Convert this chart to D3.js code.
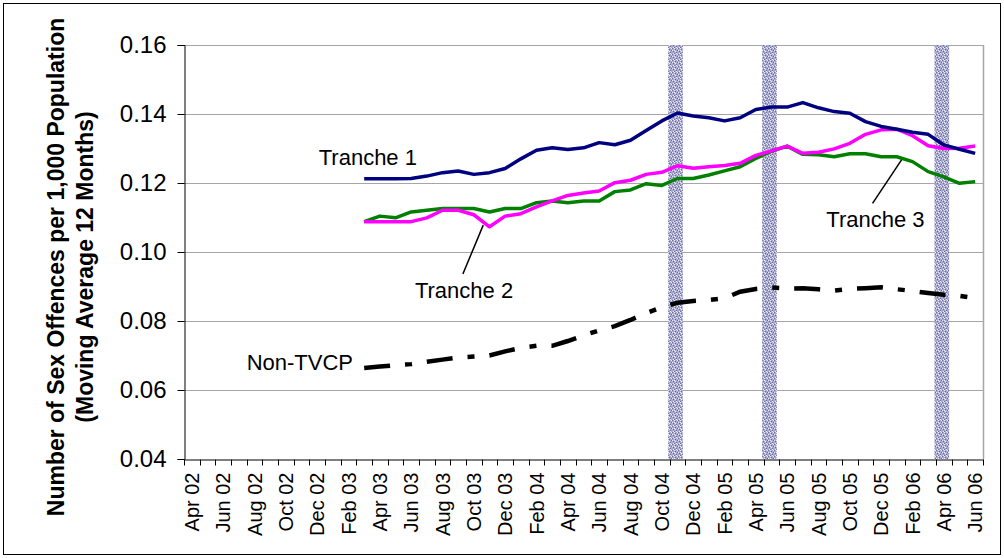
<!DOCTYPE html>
<html>
<head>
<meta charset="utf-8">
<script src="https://cdn.jsdelivr.net/npm/d3@7"></script>
<style>
  body { margin: 0; background: #fff; }
  svg { display: block; font-family: Arial, "Liberation Sans", sans-serif; }
</style>
</head>
<body>
<script>
var width = 1004;
var height = 558;
var margin = { top: 45, bottom: 99, right: 21, left: 184 };

// months on the category axis
var months = [
  "Apr 02", "May 02", "Jun 02", "Jul 02", "Aug 02", "Sep 02", "Oct 02", "Nov 02", "Dec 02", "Jan 03", "Feb 03", "Mar 03",
  "Apr 03", "May 03", "Jun 03", "Jul 03", "Aug 03", "Sep 03", "Oct 03", "Nov 03", "Dec 03", "Jan 04", "Feb 04", "Mar 04",
  "Apr 04", "May 04", "Jun 04", "Jul 04", "Aug 04", "Sep 04", "Oct 04", "Nov 04", "Dec 04", "Jan 05", "Feb 05", "Mar 05",
  "Apr 05", "May 05", "Jun 05", "Jul 05", "Aug 05", "Sep 05", "Oct 05", "Nov 05", "Dec 05", "Jan 06", "Feb 06", "Mar 06",
  "Apr 06", "May 06", "Jun 06"
];
var tickLabels = [
  "Apr 02", "Jun 02", "Aug 02", "Oct 02", "Dec 02", "Feb 03", "Apr 03", "Jun 03", "Aug 03", "Oct 03", "Dec 03", "Feb 04",
  "Apr 04", "Jun 04", "Aug 04", "Oct 04", "Dec 04", "Feb 05", "Apr 05", "Jun 05", "Aug 05", "Oct 05", "Dec 05", "Feb 06",
  "Apr 06", "Jun 06"
];
var yTicks = [0.04, 0.06, 0.08, 0.10, 0.12, 0.14, 0.16];

// series start in Mar 03
var firstMonth = "Mar 03";
var tranche1 = [
  0.1212, 0.1212, 0.1212, 0.1213, 0.1220, 0.1230, 0.1235, 0.1225, 0.1230, 0.1242,
  0.1270, 0.1295, 0.1302, 0.1297, 0.1302, 0.1317, 0.1311, 0.1324, 0.1352, 0.1380,
  0.1403, 0.1394, 0.1389, 0.1380, 0.1389, 0.1413, 0.1420, 0.1420, 0.1433, 0.1418,
  0.1407, 0.1402, 0.1378, 0.1364, 0.1356, 0.1347, 0.1341, 0.1310, 0.1298, 0.1286
];
var tranche2 = [
  0.1088, 0.1088, 0.1088, 0.1088, 0.1099, 0.1121, 0.1121, 0.1108, 0.1073, 0.1104,
  0.1111, 0.1131, 0.1148, 0.1164, 0.1171, 0.1177, 0.1201, 0.1208, 0.1225, 0.1231,
  0.1250, 0.1243, 0.1247, 0.1251, 0.1257, 0.1280, 0.1293, 0.1307, 0.1286, 0.1289,
  0.1299, 0.1315, 0.1341, 0.1354, 0.1356, 0.1337, 0.1308, 0.1300, 0.1301, 0.1307
];
var tranche3 = [
  0.1088, 0.1104, 0.1099, 0.1116, 0.1121, 0.1126, 0.1126, 0.1126, 0.1116, 0.1126,
  0.1126, 0.1143, 0.1148, 0.1143, 0.1148, 0.1148, 0.1175, 0.1180, 0.1198, 0.1193,
  0.1213, 0.1213, 0.1223, 0.1235, 0.1247, 0.1271, 0.1292, 0.1307, 0.1283, 0.1282,
  0.1276, 0.1285, 0.1285, 0.1276, 0.1276, 0.1262, 0.1233, 0.1218, 0.1199, 0.1204
];
var nonTVCP = [
  0.0664, 0.0668, 0.0672, 0.0675, 0.0682, 0.0688, 0.0694, 0.0697, 0.0700, 0.0712,
  0.0722, 0.0728, 0.0728, 0.0742, 0.0758, 0.0773, 0.0785, 0.0803, 0.0823, 0.0840,
  0.0853, 0.0858, 0.0861, 0.0866, 0.0885, 0.0893, 0.0897, 0.0894, 0.0895, 0.0892,
  0.0888, 0.0893, 0.0895, 0.0898, 0.0892, 0.0887, 0.0881, 0.0876, 0.0873, 0.0866
];
// shaded months
var shaded = ["Nov 04", "May 05", "Apr 06"];

// labels: position as (fractional month index, value)
var labels = [
  { text: "Tranche 1", i: 8.1, v: 0.1252 },
  { text: "Tranche 2", i: 14.24, v: 0.0867 },
  { text: "Tranche 3", i: 40.5, v: 0.1073 },
  { text: "Non-TVCP", i: 3.5, v: 0.0658 }
];
var leaders = [
  { i1: 17.3, v1: 0.0936, i2: 18.6, v2: 0.1078 },
  { i1: 43.45, v1: 0.1141, i2: 45.3, v2: 0.1267 }
];

var svg = d3.select("body").append("svg")
  .attr("width", width)
  .attr("height", height);

// outer frame
svg.append("rect")
  .attr("x", 3.5).attr("y", 3.5)
  .attr("width", width - 7).attr("height", height - 7)
  .attr("fill", "none").attr("stroke", "#000").attr("stroke-width", 1);

var x = d3.scaleBand()
  .domain(months)
  .range([margin.left, width - margin.right]);
var y = d3.scaleLinear()
  .domain([0.04, 0.16])
  .range([height - margin.bottom, margin.top]);

function xi(i) {
  return margin.left + (i + 0.5) * x.step();
}

// speckled fill for the shaded bars
var defs = svg.append("defs");
var pat = defs.append("pattern")
  .attr("id", "speckle")
  .attr("patternUnits", "userSpaceOnUse")
  .attr("width", 6).attr("height", 6);
pat.append("rect").attr("width", 6).attr("height", 6).attr("fill", "#a9a9d0");
var dark = [[0, 0], [3, 1], [1, 3], [4, 4], [5, 2], [2, 5]];
var light = [[2, 0], [5, 0], [0, 2], [3, 3], [1, 5], [4, 5], [2, 2]];
dark.forEach(function (p) {
  pat.append("rect").attr("x", p[0]).attr("y", p[1]).attr("width", 1).attr("height", 1).attr("fill", "#6a6aa4");
});
light.forEach(function (p) {
  pat.append("rect").attr("x", p[0]).attr("y", p[1]).attr("width", 1).attr("height", 1).attr("fill", "#ececf6");
});

// gridlines
svg.append("g")
  .selectAll("line")
  .data(yTicks.slice(1))
  .join("line")
  .attr("x1", margin.left).attr("x2", width - margin.right)
  .attr("y1", function (d) { return Math.round(y(d)) + 0.5; })
  .attr("y2", function (d) { return Math.round(y(d)) + 0.5; })
  .attr("stroke", "#a6a6a6").attr("stroke-width", 1);

// right border of plot area
svg.append("line")
  .attr("x1", width - margin.right + 0.5).attr("x2", width - margin.right + 0.5)
  .attr("y1", margin.top).attr("y2", height - margin.bottom)
  .attr("stroke", "#a6a6a6").attr("stroke-width", 1.5);

// shaded bars
svg.append("g")
  .selectAll("rect")
  .data(shaded)
  .join("rect")
  .attr("x", function (d) { return x(d) - 1.5; })
  .attr("width", x.bandwidth() - 1)
  .attr("y", margin.top)
  .attr("height", height - margin.bottom - margin.top)
  .attr("fill", "url(#speckle)");

// axes
var axisY = d3.axisLeft(y).tickValues(yTicks).tickFormat(d3.format(".2f")).tickSize(7).tickPadding(11);
var gy = svg.append("g")
  .attr("transform", "translate(" + (margin.left + 0.5) + ",0)")
  .call(axisY);
gy.select(".domain").attr("stroke", "#000");
gy.selectAll("text").attr("font-size", "24px").attr("font-family", "Arial, 'Liberation Sans', sans-serif").attr("fill", "#000");

var axisX = d3.axisBottom(x).tickValues([]).tickSize(0);
var gx = svg.append("g")
  .attr("transform", "translate(0," + (height - margin.bottom + 0.5) + ")")
  .call(axisX);
gx.select(".domain").attr("stroke", "#000");
// tick marks on category boundaries
gx.selectAll("line.bound")
  .data(months.concat(["end"]))
  .join("line")
  .attr("class", "bound")
  .attr("x1", function (d, i) { return Math.round(margin.left + i * x.step()) + 0.5; })
  .attr("x2", function (d, i) { return Math.round(margin.left + i * x.step()) + 0.5; })
  .attr("y1", 0).attr("y2", 6)
  .attr("stroke", "#000");
gx.selectAll("text.lab")
  .data(tickLabels)
  .join("text")
  .attr("class", "lab")
  .attr("transform", function (d) {
    return "translate(" + (x(d) + x.bandwidth() / 2) + ",13) rotate(-90)";
  })
  .attr("text-anchor", "end")
  .attr("dy", "0.35em")
  .attr("font-size", "20px")
  .attr("fill", "#000")
  .text(function (d) { return d; });

// y axis title
var title = svg.append("text")
  .attr("transform", "translate(0,267) rotate(-90)")
  .attr("text-anchor", "middle")
  .attr("font-size", "23px")
  .attr("font-weight", "bold");
title.append("tspan").attr("x", 0).attr("y", 64).text("Number of Sex Offences per 1,000 Population");
title.append("tspan").attr("x", 0).attr("y", 93).text("(Moving Average 12 Months)");

// lines
var start = months.indexOf(firstMonth);
var line = d3.line()
  .x(function (d, i) { return x(months[start + i]) + x.bandwidth() / 2; })
  .y(function (d) { return y(d); });

svg.append("path").datum(nonTVCP)
  .attr("fill", "none").attr("stroke", "#000").attr("stroke-width", 4.5)
  .attr("stroke-dasharray", "26,15,7,15")
  .attr("d", line);
svg.append("path").datum(tranche3)
  .attr("fill", "none").attr("stroke", "#008000").attr("stroke-width", 3.5)
  .attr("stroke-linejoin", "round")
  .attr("d", line);
svg.append("path").datum(tranche2)
  .attr("fill", "none").attr("stroke", "#ff00ff").attr("stroke-width", 3.5)
  .attr("stroke-linejoin", "round")
  .attr("d", line);
svg.append("path").datum(tranche1)
  .attr("fill", "none").attr("stroke", "#000080").attr("stroke-width", 3.5)
  .attr("stroke-linejoin", "round")
  .attr("d", line);

// leaders and labels
svg.append("g")
  .selectAll("line")
  .data(leaders)
  .join("line")
  .attr("x1", function (d) { return xi(d.i1); })
  .attr("y1", function (d) { return y(d.v1); })
  .attr("x2", function (d) { return xi(d.i2); })
  .attr("y2", function (d) { return y(d.v2); })
  .attr("stroke", "#000").attr("stroke-width", 1.5);

svg.append("g")
  .selectAll("text")
  .data(labels)
  .join("text")
  .attr("x", function (d) { return xi(d.i); })
  .attr("y", function (d) { return y(d.v); })
  .attr("font-size", "22px")
  .attr("fill", "#000")
  .text(function (d) { return d.text; });
</script>
</body>
</html>
